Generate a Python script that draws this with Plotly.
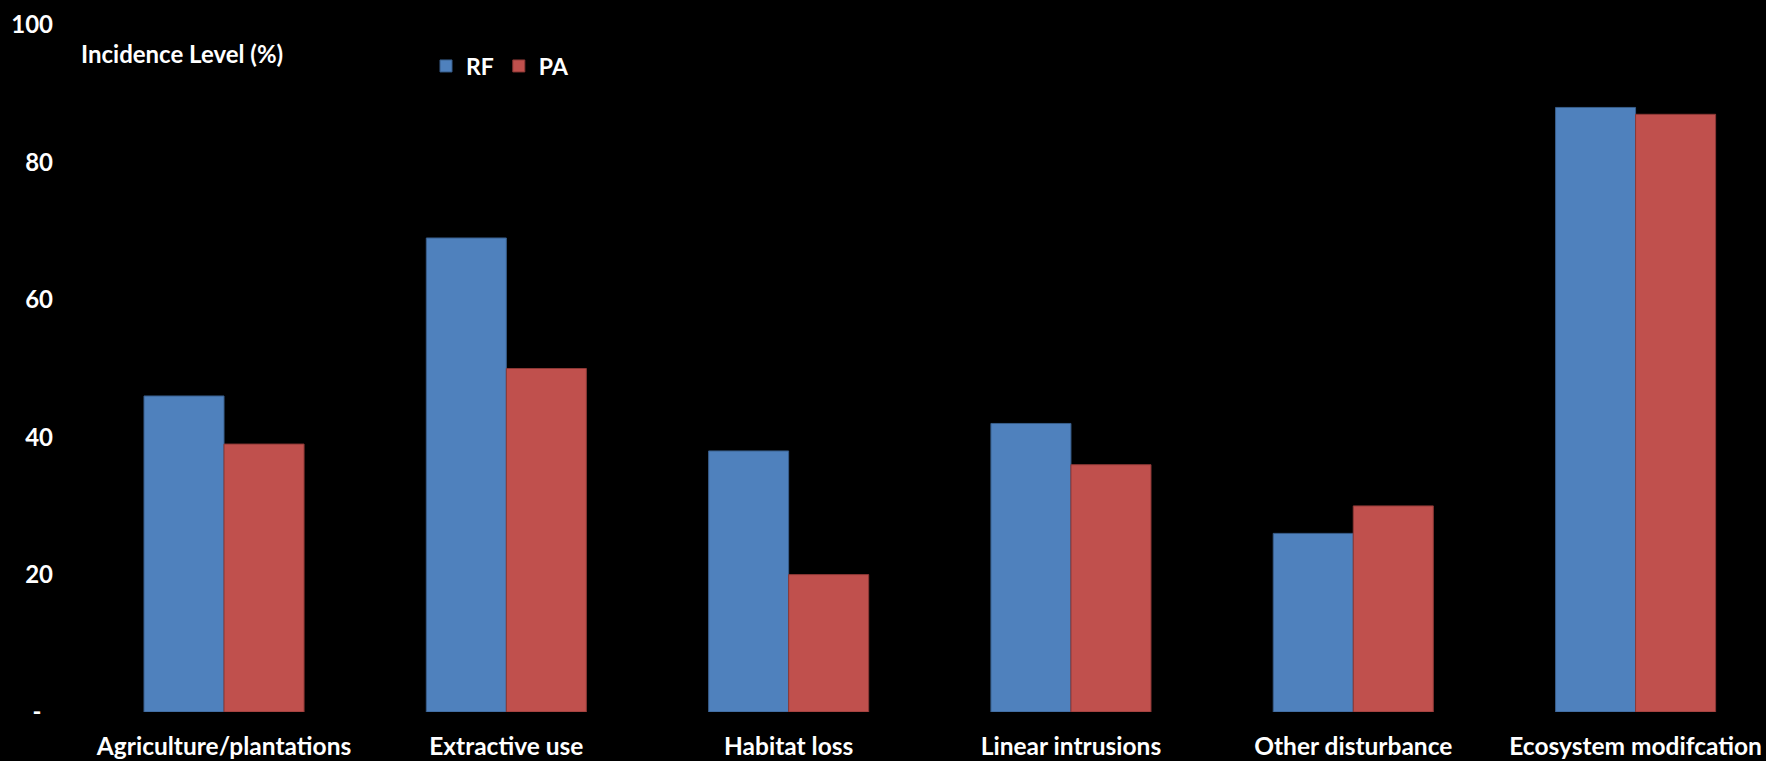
import plotly.graph_objects as go

categories = ["Agriculture/plantations", "Extractive use", "Habitat loss",
              "Linear intrusions", "Other disturbance", "Ecosystem modifcation"]
rf_values = [46, 69, 38, 42, 26, 88]
pa_values = [39, 50, 20, 36, 30, 87]
y_tickvals = [0, 20, 40, 60, 80, 100]
y_ticktext = ["-\u00a0\u00a0", "20", "40", "60", "80", "100"]

FONT = "Lato"
x_idx = list(range(len(categories)))

T, B = 25, 49
PH = 761 - T - B

fig = go.Figure()
fig.add_trace(go.Bar(x=x_idx, y=rf_values, name="RF",
                     marker=dict(color="#4F81BD", line=dict(color="#385D8A", width=1))))
fig.add_trace(go.Bar(x=x_idx, y=pa_values, name="PA",
                     marker=dict(color="#C0504D", line=dict(color="#8C3836", width=1))))

fig.update_layout(
    width=1766, height=761,
    paper_bgcolor="black", plot_bgcolor="black",
    margin=dict(l=60, r=0, t=T, b=B),
    barmode="group", bargap=0.433, bargroupgap=0,
    showlegend=True,
    legend=dict(orientation="h", x=(426 - 60) / 1706, y=(761 - B - 66) / PH, xanchor="left", yanchor="middle",
                xref="paper", yref="paper",
                font=dict(family=FONT, size=23, color="white", weight="bold"),
                bgcolor="rgba(0,0,0,0)", itemwidth=30, tracegroupgap=0),
    xaxis=dict(tickmode="array", tickvals=x_idx, ticktext=categories,
               range=[-0.581, 5.462], showgrid=False, zeroline=False, showline=False,
               ticks="", ticklabelstandoff=17,
               tickfont=dict(family=FONT, size=24.5, color="white", weight="bold")),
    yaxis=dict(range=[0, 100], tickvals=y_tickvals, ticktext=y_ticktext,
               showgrid=False, zeroline=False, showline=False, ticks="",
               ticklabelstandoff=6,
               tickfont=dict(family=FONT, size=24, color="white", weight="bold")),
    annotations=[dict(text="Incidence Level (%)", xref="paper", yref="paper",
                      x=(79 - 60) / 1706, y=(761 - B - 53) / PH, xanchor="left", yanchor="middle",
                      showarrow=False,
                      font=dict(family=FONT, size=24, color="white", weight="bold"))],
)

fig.write_html("out.html")
